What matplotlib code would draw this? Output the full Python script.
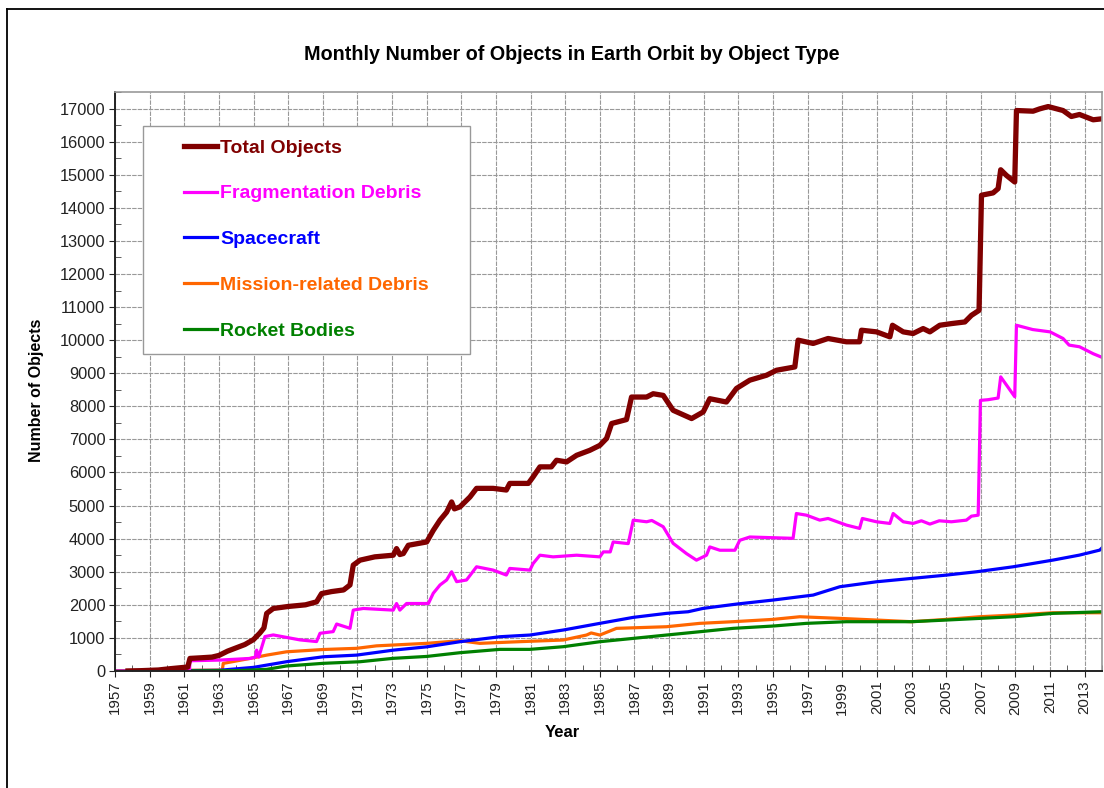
import matplotlib
matplotlib.use("Agg")
import matplotlib.pyplot as plt
from matplotlib.lines import Line2D
from matplotlib.patches import Rectangle
from matplotlib.ticker import MultipleLocator

plt.rcParams['font.family'] = ['Liberation Sans', 'DejaVu Sans']

# values (year, number of objects)
total_years = [1957.75, 1958.5, 1959.5, 1960.2, 1961.2, 1961.33, 1962.0, 1962.6, 1963.0, 1963.5,
               1964.0, 1964.5, 1965.0, 1965.37, 1965.6, 1965.76, 1966.14, 1967.0, 1968.0, 1968.64,
               1968.93, 1969.5, 1970.2, 1970.57, 1970.76, 1971.15, 1972.0, 1973.07, 1973.26, 1973.45,
               1973.65, 1973.94, 1975.0, 1975.38, 1975.77, 1976.15, 1976.44, 1976.6, 1976.92, 1977.5,
               1977.88, 1978.84, 1979.6, 1979.8, 1980.87, 1981.15, 1981.54, 1982.2, 1982.5, 1983.08,
               1983.66, 1984.42, 1985.0, 1985.39, 1985.68, 1986.54, 1986.83, 1987.7, 1988.08, 1988.66,
               1989.23, 1990.3, 1990.97, 1991.35, 1992.31, 1992.89, 1993.66, 1994.63, 1995.2, 1996.26,
               1996.45, 1997.32, 1998.18, 1999.24, 2000.0, 2000.11, 2000.98, 2001.75, 2001.9, 2002.52,
               2003.09, 2003.67, 2004.06, 2004.63, 2005.3, 2006.08, 2006.46, 2006.9, 2007.04, 2007.71,
               2008.0, 2008.15, 2008.48, 2008.96, 2009.06, 2010.02, 2010.4, 2010.89, 2011.75, 2012.23,
               2012.7, 2013.49, 2014.0]
total_vals = [2, 10, 30, 70, 120, 380, 400, 420, 470, 600,
              700, 800, 950, 1150, 1300, 1740, 1890, 1950, 2000, 2090,
              2340, 2400, 2450, 2600, 3200, 3350, 3450, 3500, 3700, 3520,
              3550, 3800, 3900, 4250, 4560, 4800, 5110, 4900, 4960, 5260,
              5520, 5520, 5470, 5670, 5670, 5870, 6170, 6170, 6370, 6320,
              6520, 6670, 6820, 7030, 7480, 7600, 8280, 8280, 8380, 8330,
              7880, 7630, 7830, 8230, 8130, 8540, 8790, 8940, 9090, 9190,
              10000, 9900, 10050, 9950, 9950, 10300, 10250, 10100, 10450, 10250,
              10200, 10350, 10250, 10450, 10500, 10550, 10750, 10900, 14380, 14450,
              14580, 15150, 14980, 14780, 16940, 16920, 16990, 17060, 16940, 16760,
              16820, 16660, 16690]

frag_years = [1957.0, 1961.3, 1961.33, 1963.06, 1964.8, 1965.1, 1965.18, 1965.3, 1965.66, 1966.14,
              1967.68, 1968.64, 1968.84, 1969.6, 1969.8, 1970.57, 1970.76, 1971.34, 1973.07, 1973.26,
              1973.45, 1973.84, 1975.1, 1975.38, 1975.77, 1976.15, 1976.44, 1976.73, 1977.3, 1977.88,
              1978.84, 1979.6, 1979.8, 1980.96, 1981.15, 1981.54, 1982.3, 1983.66, 1985.0, 1985.2,
              1985.6, 1985.77, 1986.64, 1986.93, 1987.7, 1988.0, 1988.66, 1989.23, 1990.0, 1990.58,
              1991.16, 1991.35, 1991.93, 1992.8, 1993.08, 1993.66, 1996.16, 1996.35, 1996.93, 1997.7,
              1998.18, 1999.24, 2000.0, 2000.16, 2000.98, 2001.75, 2001.94, 2002.52, 2003.09, 2003.57,
              2004.06, 2004.6, 2005.3, 2006.17, 2006.46, 2006.85, 2006.98, 2007.42, 2008.0, 2008.15,
              2008.96, 2009.06, 2010.0, 2011.0, 2011.75, 2012.1, 2012.7, 2013.49, 2014.0]
frag_vals = [0, 0, 310, 330, 380, 420, 630, 420, 1040, 1090,
             940, 890, 1140, 1190, 1420, 1290, 1840, 1890, 1840, 2040,
             1840, 2040, 2040, 2350, 2600, 2750, 3000, 2700, 2750, 3150,
             3050, 2900, 3100, 3050, 3250, 3500, 3450, 3500, 3450, 3600,
             3600, 3900, 3850, 4560, 4510, 4550, 4360, 3860, 3550, 3350,
             3500, 3750, 3650, 3650, 3950, 4050, 4010, 4760, 4710, 4560,
             4610, 4410, 4310, 4610, 4510, 4460, 4760, 4510, 4460, 4540,
             4440, 4540, 4510, 4560, 4680, 4710, 8180, 8200, 8250, 8890,
             8290, 10450, 10320, 10250, 10050, 9850, 9800, 9590, 9480]

sc_years = [1957.8, 1963.0, 1965.0, 1966.9, 1969.03, 1970.95, 1973.07, 1975.0, 1976.92, 1979.23,
            1980.96, 1982.88, 1985.0, 1986.93, 1988.85, 1990.1, 1990.97, 1992.9, 1995.0, 1997.32,
            1998.86, 2000.98, 2003.0, 2005.02, 2006.75, 2008.87, 2011.17, 2012.7, 2013.87, 2014.0]
sc_vals = [0, 20, 110, 280, 430, 480, 630, 730, 885, 1036,
           1087, 1238, 1440, 1621, 1742, 1791, 1893, 2023, 2144, 2295,
           2547, 2697, 2798, 2899, 2999, 3150, 3352, 3503, 3654, 3720]

mission_years = [1957.0, 1963.2, 1963.25, 1964.8, 1965.76, 1966.9, 1969.03, 1970.95, 1972.1, 1973.07,
                 1975.0, 1976.92, 1978.07, 1980.3, 1982.88, 1984.23, 1984.5, 1985.0, 1985.96, 1988.85,
                 1990.77, 1992.7, 1995.0, 1996.55, 1998.86, 2000.98, 2003.0, 2005.0, 2006.94, 2008.87,
                 2011.17, 2014.0]
mission_vals = [0, 30, 230, 380, 480, 580, 650, 685, 760, 785,
                836, 915, 836, 885, 936, 1087, 1150, 1087, 1289, 1338,
                1440, 1490, 1560, 1640, 1590, 1540, 1490, 1560, 1640, 1690,
                1760, 1760]

rb_years = [1957.0, 1964.0, 1965.76, 1966.9, 1969.03, 1971.15, 1973.07, 1975.0, 1976.92, 1979.23,
            1980.96, 1982.88, 1985.0, 1986.93, 1988.85, 1990.77, 1992.7, 1995.0, 1996.93, 1999.24,
            2000.98, 2003.0, 2005.0, 2006.94, 2008.87, 2011.17, 2014.0]
rb_vals = [0, 10, 50, 151, 232, 280, 383, 440, 553, 654,
           654, 734, 885, 986, 1087, 1187, 1289, 1359, 1440, 1490,
           1490, 1490, 1540, 1590, 1640, 1742, 1791]

year_labels = list(range(1957, 2014, 2))

fig = plt.figure(figsize=(11.04, 7.88), dpi=100)
ax = fig.add_axes([115 / 1104, 1 - 671 / 788, 987 / 1104, 579 / 788])

l_mis, = ax.plot(mission_years, mission_vals, color='#FF6600', lw=2.3, label='Mission-related Debris')
l_sc, = ax.plot(sc_years, sc_vals, color='#0000FF', lw=2.3, label='Spacecraft')
l_rb, = ax.plot(rb_years, rb_vals, color='#008000', lw=2.3, label='Rocket Bodies')
l_frag, = ax.plot(frag_years, frag_vals, color='#FF00FF', lw=2.3, label='Fragmentation Debris')
l_tot, = ax.plot(total_years, total_vals, color='#800000', lw=3.8, label='Total Objects',
                 solid_joinstyle='round')

ax.set_xlim(1957, 2014)
ax.set_ylim(0, 17500)
ax.set_xticks(year_labels)
ax.set_xticklabels([str(y) for y in year_labels], rotation=90, fontsize=10.8)
ax.xaxis.set_minor_locator(MultipleLocator(1))
ax.yaxis.set_major_locator(MultipleLocator(1000))
ax.yaxis.set_minor_locator(MultipleLocator(500))
ax.tick_params(axis='y', labelsize=11.8)
ax.tick_params(which='major', direction='out', length=4, colors='#222222', pad=3)
ax.tick_params(which='minor', direction='in', length=4, color='#444444')
ax.grid(True, which='major', color='#999999', lw=0.8, ls=(0, (4, 1)))
ax.set_axisbelow(True)

for s in ['left', 'bottom']:
    ax.spines[s].set_color('#222222')
    ax.spines[s].set_linewidth(1.4)
for s in ['top', 'right']:
    ax.spines[s].set_color('#999999')
    ax.spines[s].set_linewidth(1.2)

ax.set_xlabel('Year', fontsize=12, fontweight='bold')
ax.set_ylabel('Number of Objects', fontsize=11.5, fontweight='bold')
ax.xaxis.set_label_coords(0.453, -(725 - 671) / 579)
ax.yaxis.set_label_coords(-(115 - 44) / 987, 0.484)
fig.text(0.518, 1 - 54 / 788, 'Monthly Number of Objects in Earth Orbit by Object Type',
         ha='center', va='center', fontsize=14.2, fontweight='bold')

# legend box drawn separately so its padding matches the reference
ax.add_patch(Rectangle((28 / 987, (671 - 354) / 579), 327 / 987, 228 / 579, transform=ax.transAxes,
                       facecolor='white', edgecolor='#999999', lw=1.0, zorder=4))
leg = ax.legend(handles=[l_tot, l_frag, l_sc, l_mis, l_rb],
                loc='upper left', bbox_to_anchor=((184 - 115) / 987, 1 - 47 / 579),
                frameon=False, prop={'weight': 'bold', 'size': 14}, handlelength=1.7,
                handletextpad=0.15, labelspacing=1.45, borderpad=0, borderaxespad=0)
leg.set_zorder(5)
for txt, ln in zip(leg.get_texts(), leg.get_lines()):
    txt.set_color(ln.get_color())

# outer frame of the picture (left and top edges visible)
fig.add_artist(Line2D([7 / 1104, 7 / 1104], [0, 1 - 9 / 788], transform=fig.transFigure,
                      color='black', lw=1.3))
fig.add_artist(Line2D([7 / 1104, 1], [1 - 9 / 788, 1 - 9 / 788], transform=fig.transFigure,
                      color='black', lw=1.3))

fig.savefig('out.png', dpi=100)
